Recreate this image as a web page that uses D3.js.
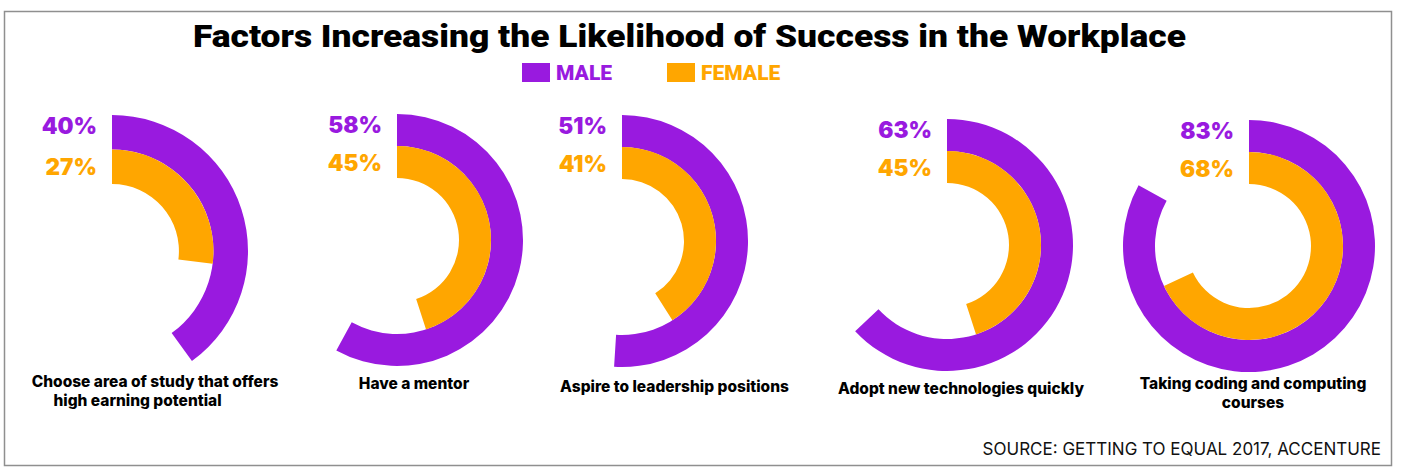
<!DOCTYPE html>
<html>
<head>
<meta charset="utf-8">
<script src="https://cdn.jsdelivr.net/npm/d3@7"></script>
<style>
  html, body { margin: 0; padding: 0; background: #fff; }
  svg { display: block; }
</style>
</head>
<body>
<svg id="chart" width="1407" height="473"></svg>
<script>
// ---------- DATA ----------
const categories = [
  "Choose area of study that offers high earning potential",
  "Have a mentor",
  "Aspire to leadership positions",
  "Adopt new technologies quickly",
  "Taking coding and computing courses"
];
const categoryLines = [
  ["Choose area of study that offers", "high earning potential"],
  ["Have a mentor"],
  ["Aspire to leadership positions"],
  ["Adopt new technologies quickly"],
  ["Taking coding and computing", "courses"]
];
const maleValues = [40, 58, 51, 63, 83];
const femaleValues = [27, 45, 41, 45, 68];
const seriesNames = ["MALE", "FEMALE"];
const titleText = "Factors Increasing the Likelihood of Success in the Workplace";
const sourceText = "SOURCE: GETTING TO EQUAL 2017, ACCENTURE";

// ---------- LAYOUT (not data) ----------
const panelCx = [112, 397, 622, 947, 1249];
const panelCy = [251, 240, 241, 245, 246];
const panelScale = [136 / 126, 1, 1, 1, 1];
const labelCx = [[155, 137.5], [414], [674.5], [961], [1253, 1253]];
const labelBase = [[387, 406], [389], [392], [394], [389, 408]];

const PURPLE = "#991ADF";
const ORANGE = "#FFA600";
const colors = [PURPLE, ORANGE];

const svg = d3.select("#chart");

// frame
svg.append("rect")
  .attr("x", 4.5).attr("y", 11.5)
  .attr("width", 1387).attr("height", 454)
  .attr("fill", "#fff")
  .attr("stroke", "#8f8f8f")
  .attr("stroke-width", 1.5);

// title
const title = svg.append("text")
  .attr("x", 689.5).attr("y", 47)
  .attr("text-anchor", "middle")
  .style("font-family", "Roboto, 'Liberation Sans', sans-serif")
  .style("font-weight", 900)
  .style("font-size", "31px")
  .attr("fill", "#000")
  .text(titleText);
const tw = title.node().getComputedTextLength();
if (Math.abs(tw - 993) > 4) {
  title.attr("textLength", 993).attr("lengthAdjust", "spacingAndGlyphs");
}

// legend
const legendX = [522, 667];
seriesNames.forEach((name, i) => {
  svg.append("rect")
    .attr("x", legendX[i]).attr("y", 63)
    .attr("width", 28).attr("height", 19)
    .attr("fill", colors[i]);
  svg.append("text")
    .attr("x", legendX[i] + 34).attr("y", 80)
    .style("font-family", "Roboto, 'Liberation Sans', sans-serif")
    .style("font-weight", 900)
    .style("font-size", "21px")
    .attr("fill", colors[i])
    .text(name);
});

// angle scale
const angle = d3.scaleLinear().domain([0, 100]).range([0, 2 * Math.PI]);

// base ring radii
const R_OUT = 126, R_MID = 94, R_IN = 62;

categories.forEach((cat, i) => {
  const s = panelScale[i];
  const g = svg.append("g")
    .attr("transform", `translate(${panelCx[i]},${panelCy[i]})`);

  const maleArc = d3.arc()
    .innerRadius(R_MID * s).outerRadius(R_OUT * s)
    .startAngle(0).endAngle(angle(maleValues[i]));
  const femaleArc = d3.arc()
    .innerRadius(R_IN * s).outerRadius(R_MID * s)
    .startAngle(0).endAngle(angle(femaleValues[i]));

  g.append("path").attr("d", maleArc()).attr("fill", PURPLE);
  g.append("path").attr("d", femaleArc()).attr("fill", ORANGE);

  const top = -R_OUT * s;
  const ring = (R_OUT - R_MID) * s;
  g.append("text")
    .attr("x", -15).attr("y", top + 19)
    .attr("text-anchor", "end")
    .style("font-family", "Inter, 'Noto Sans', sans-serif")
    .style("font-weight", 900)
    .style("font-size", "22.5px")
    .attr("fill", PURPLE)
    .text(maleValues[i] + "%");
  g.append("text")
    .attr("x", -15).attr("y", top + ring + 25)
    .attr("text-anchor", "end")
    .style("font-family", "Inter, 'Noto Sans', sans-serif")
    .style("font-weight", 900)
    .style("font-size", "22.5px")
    .attr("fill", ORANGE)
    .text(femaleValues[i] + "%");

  categoryLines[i].forEach((line, j) => {
    svg.append("text")
      .attr("x", labelCx[i][j]).attr("y", labelBase[i][j])
      .attr("text-anchor", "middle")
      .style("font-family", "Inter, 'Noto Sans', sans-serif")
      .style("font-weight", 800)
      .style("font-size", "15.5px")
      .attr("fill", "#000")
      .text(line);
  });
});

// source
svg.append("text")
  .attr("x", 1381).attr("y", 455)
  .attr("text-anchor", "end")
  .style("font-family", "Inter, 'Noto Sans', sans-serif")
  .style("font-weight", 400)
  .style("font-size", "17px")
  .attr("fill", "#111")
  .text(sourceText);
</script>
</body>
</html>
